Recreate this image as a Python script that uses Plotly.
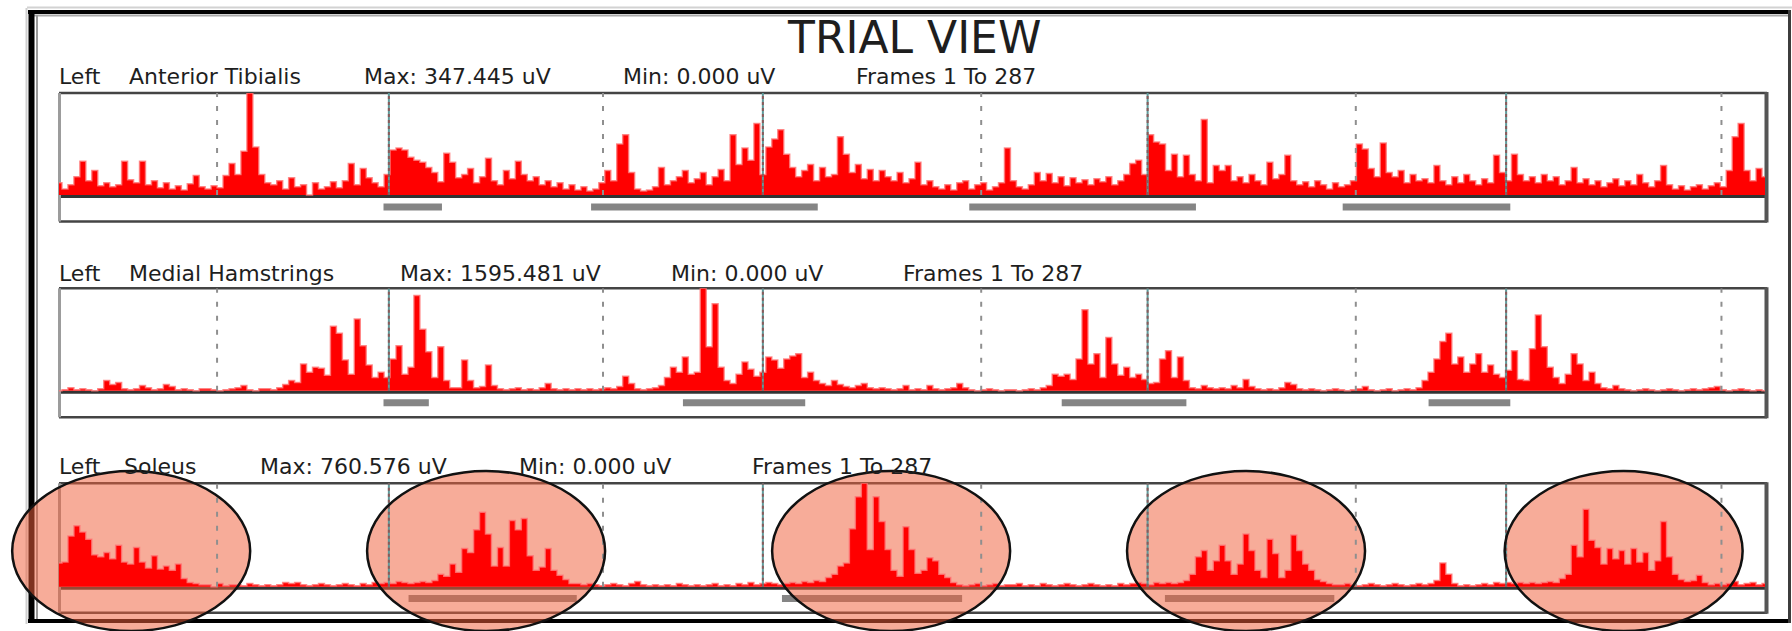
import plotly.graph_objects as go

W, H = 1792, 631

FRAMES = list(range(1, 288))

# Rectified EMG per frame, in % of each channel's peak amplitude
ta_pct = [
    12, 6, 10, 18, 33, 14, 24, 9, 12, 8,
    10, 33, 15, 12, 33, 10, 14, 7, 12, 6,
    9, 5, 11, 19, 8, 6, 9, 7, 19, 31,
    20, 43, 100, 47, 20, 12, 10, 14, 6, 17,
    8, 10, 0, 12, 6, 8, 13, 7, 14, 31,
    10, 26, 17, 12, 8, 20, 44, 46, 44, 37,
    34, 32, 27, 22, 13, 41, 32, 17, 20, 26,
    12, 18, 36, 14, 10, 24, 16, 33, 20, 14,
    18, 10, 14, 8, 12, 6, 10, 5, 8, 4,
    6, 12, 24, 14, 50, 59, 22, 6, 4, 5,
    8, 27, 10, 14, 18, 24, 12, 16, 22, 10,
    18, 25, 14, 59, 30, 46, 34, 70, 20, 47,
    55, 64, 40, 27, 18, 24, 30, 14, 27, 18,
    20, 57, 40, 22, 30, 16, 25, 14, 24, 18,
    14, 22, 12, 16, 32, 10, 14, 8, 6, 10,
    5, 12, 14, 6, 10, 12, 5, 8, 12, 46,
    14, 8, 6, 10, 22, 14, 21, 12, 18, 9,
    17, 12, 15, 10, 16, 13, 18, 10, 14, 20,
    31, 34, 20, 59, 52, 50, 24, 40, 18, 39,
    20, 14, 74, 12, 29, 24, 29, 14, 18, 12,
    20, 14, 10, 32, 16, 20, 39, 14, 10, 13,
    8, 14, 10, 6, 12, 8, 10, 14, 50, 45,
    26, 18, 51, 22, 18, 24, 12, 20, 14, 16,
    12, 29, 14, 10, 18, 12, 20, 14, 10, 16,
    12, 39, 22, 14, 40, 20, 14, 18, 12, 20,
    14, 18, 10, 14, 27, 12, 16, 10, 14, 8,
    12, 16, 9, 14, 10, 20, 12, 8, 14, 29,
    10, 6, 9, 5, 8, 10, 6, 9, 12, 8,
    24, 57, 70, 24, 14, 26, 18,
]

mh_pct = [
    0, 1, 3, 1, 2, 1, 0, 2, 10, 6,
    8, 2, 1, 2, 5, 3, 1, 2, 6, 4,
    1, 2, 1, 0, 2, 2, 1, 0, 1, 2,
    3, 5, 1, 0, 2, 2, 1, 3, 6, 10,
    8, 26, 18, 23, 22, 15, 63, 56, 30, 16,
    70, 44, 25, 13, 18, 13, 31, 44, 16, 23,
    93, 60, 38, 13, 43, 10, 3, 3, 30, 10,
    3, 4, 25, 5, 2, 1, 2, 3, 1, 2,
    1, 3, 7, 2, 1, 2, 1, 2, 1, 2,
    1, 2, 3, 2, 4, 14, 7, 2, 1, 2,
    3, 5, 13, 23, 18, 33, 16, 18, 100, 43,
    85, 23, 10, 7, 16, 28, 21, 14, 18, 33,
    30, 22, 31, 34, 36, 13, 18, 10, 7, 5,
    10, 6, 4, 3, 5, 7, 3, 2, 3, 2,
    1, 2, 5, 1, 2, 1, 5, 2, 1, 2,
    3, 7, 3, 1, 0, 1, 2, 1, 0, 1,
    1, 0, 1, 2, 1, 3, 5, 16, 14, 16,
    11, 31, 79, 26, 36, 13, 52, 26, 15, 23,
    13, 16, 11, 7, 8, 31, 39, 13, 33, 10,
    3, 2, 5, 3, 2, 3, 2, 5, 3, 11,
    4, 2, 1, 2, 1, 3, 8, 6, 2, 1,
    2, 1, 0, 1, 2, 1, 0, 1, 2, 4,
    1, 0, 1, 2, 0, 1, 2, 1, 3, 10,
    18, 31, 48, 56, 26, 33, 18, 26, 36, 18,
    25, 16, 13, 20, 39, 11, 10, 41, 74, 43,
    23, 13, 7, 16, 36, 26, 10, 18, 7, 3,
    2, 5, 2, 1, 0, 1, 2, 1, 0, 1,
    2, 1, 0, 1, 2, 1, 2, 3, 4, 1,
    0, 1, 2, 1, 0, 1, 0,
]

sol_pct = [
    23, 24, 49, 59, 53, 46, 31, 29, 33, 27,
    40, 24, 22, 38, 24, 18, 30, 17, 20, 16,
    22, 8, 4, 3, 2, 2, 0, 3, 1, 2,
    2, 1, 3, 2, 1, 2, 1, 2, 4, 3,
    4, 2, 1, 2, 3, 2, 1, 2, 3, 2,
    1, 3, 2, 4, 3, 4, 3, 5, 4, 3,
    4, 5, 4, 6, 12, 10, 22, 14, 37, 33,
    55, 72, 51, 20, 38, 20, 64, 55, 66, 30,
    16, 19, 37, 16, 11, 7, 3, 3, 2, 3,
    2, 1, 2, 3, 2, 1, 3, 5, 2, 1,
    2, 1, 2, 1, 3, 2, 1, 2, 1, 2,
    3, 1, 2, 1, 3, 2, 4, 2, 3, 4,
    3, 2, 3, 4, 3, 5, 4, 6, 5, 9,
    12, 20, 23, 56, 87, 100, 36, 87, 63, 36,
    16, 10, 58, 36, 13, 16, 28, 25, 12, 9,
    4, 2, 1, 2, 3, 1, 2, 3, 1, 2,
    2, 3, 1, 2, 1, 3, 2, 1, 2, 3,
    2, 1, 2, 3, 2, 1, 2, 1, 3, 2,
    3, 4, 3, 2, 4, 3, 4, 3, 4, 6,
    12, 29, 35, 16, 25, 40, 25, 12, 22, 51,
    35, 16, 9, 46, 32, 9, 16, 50, 35, 22,
    16, 7, 5, 3, 2, 2, 3, 2, 1, 2,
    3, 2, 1, 2, 3, 2, 1, 2, 3, 2,
    3, 6, 23, 12, 3, 1, 2, 1, 2, 3,
    2, 4, 3, 4, 3, 4, 3, 4, 3, 4,
    5, 4, 8, 12, 40, 29, 75, 45, 38, 22,
    37, 27, 35, 22, 37, 24, 33, 16, 25, 63,
    29, 12, 7, 5, 6, 11, 4, 2, 3, 2,
    3, 5, 2, 3, 4, 2, 3,
]

TA_MAX = 347.445
MH_MAX = 1595.481
SOL_MAX = 760.576

SIDE = "Left"
channel_names = ["Anterior Tibialis", "Medial Hamstrings", "Soleus"]

# Gait events (frames)
toe_off_frames = [27.5, 92.2, 155.6, 218.4, 279.7]
foot_strike_frames = [56.3, 119.0, 183.5, 243.6]

# Expected on-periods of each muscle (start frame, end frame)
ta_on = [(55.4, 65.2), (90.2, 128.2), (153.6, 191.6), (216.2, 244.3)]
mh_on = [(55.4, 63.0), (105.6, 126.1), (169.1, 190.0), (230.6, 244.3)]
sol_on = [(59.6, 87.8), (122.2, 152.4), (186.4, 214.8)]

# Soleus bursts circled on the bottom channel (centre frame)
highlight_frames = [13.1, 72.6, 140.5, 200.0, 263.3]

for arr in (ta_pct, mh_pct, sol_pct):
    assert len(arr) == len(FRAMES)

channels = [
    dict(name=channel_names[0], pct=ta_pct, peak=TA_MAX, on=ta_on),
    dict(name=channel_names[1], pct=mh_pct, peak=MH_MAX, on=mh_on),
    dict(name=channel_names[2], pct=sol_pct, peak=SOL_MAX, on=sol_on),
]

# ---- page geometry (pixels) ----
BOX_X0, BOX_X1 = 59, 1765
panel_top = [93, 288.3, 483.3]
panel_base = [195, 390.7, 586.7]
panel_bot = [221.5, 417.3, 612.7]

label_y = [75, 272.5, 465.5]
label_x = [
    [80, 214.5, 457.8, 699.3, 946],
    [80, 231.5, 500, 747, 993.5],
    [80, 159.5, 353.5, 595, 842],
]


def px(x):
    return x / W


def py(y):
    return 1 - y / H


def frame_to_paper(f):
    return px(BOX_X0 + (f - FRAMES[0]) / (FRAMES[-1] - FRAMES[0]) * (BOX_X1 - BOX_X0))


FONT = "DejaVu Sans"
TXT = "#1e1e1e"

fig = go.Figure()
layout = dict(
    width=W, height=H,
    margin=dict(l=0, r=0, t=0, b=0, pad=0),
    paper_bgcolor="white",
    plot_bgcolor="rgba(0,0,0,0)",
    showlegend=False,
)
shapes = []
annotations = []


def hline(x0, x1, y, color, width, layer="below"):
    shapes.append(dict(type="line", xref="paper", yref="paper",
                       x0=px(x0), x1=px(x1), y0=py(y), y1=py(y),
                       line=dict(color=color, width=width), layer=layer))


def vline(x, y0, y1, color, width, layer="below"):
    shapes.append(dict(type="line", xref="paper", yref="paper",
                       x0=px(x), x1=px(x), y0=py(y0), y1=py(y1),
                       line=dict(color=color, width=width), layer=layer))


# outer report frame
hline(27, 1792, 7.5, "#d2d2d2", 2)
vline(26.5, 8, 624, "#cfcfcf", 2)
hline(28, 1791, 12, "#000000", 4)
hline(34, 1788, 15.5, "#a8a8a8", 2)
vline(31.5, 10, 623, "#000000", 6)
vline(37, 15, 619, "#9a9a9a", 2)
hline(28, 1791, 621, "#000000", 4)
vline(1789.5, 10, 623, "#3c3c3c", 3)

annotations.append(dict(text="TRIAL VIEW", x=px(914), y=py(37), xref="paper", yref="paper",
                        xanchor="center", yanchor="middle", showarrow=False,
                        font=dict(family=FONT, size=44, color=TXT)))

for i, ch in enumerate(channels):
    n = i + 1
    xa = "x" if n == 1 else f"x{n}"
    ya = "y" if n == 1 else f"y{n}"
    peak = ch["peak"]
    uv = [round(p / 100 * peak, 3) for p in ch["pct"]]
    top, base, bot = panel_top[i], panel_base[i], panel_bot[i]
    ymin = -peak * (bot - base) / (base - top)

    layout["xaxis" if n == 1 else f"xaxis{n}"] = dict(
        domain=[px(BOX_X0), px(BOX_X1)], range=[FRAMES[0], FRAMES[-1]],
        visible=False, anchor=ya, fixedrange=True)
    layout["yaxis" if n == 1 else f"yaxis{n}"] = dict(
        domain=[py(bot), py(top)], range=[ymin, peak],
        visible=False, anchor=xa, fixedrange=True)

    fig.add_trace(go.Scatter(
        x=FRAMES, y=uv, xaxis=xa, yaxis=ya, mode="lines",
        line=dict(color="rgba(255,120,120,0.8)", width=1.5, shape="hvh"),
        fill="tozeroy", fillcolor="#ff0000", hoverinfo="skip"))

    # channel box
    hline(BOX_X0, BOX_X1 + 2, top, "#444444", 2.5)
    hline(BOX_X0, BOX_X1 + 2, bot, "#444444", 2.5)
    hline(BOX_X0, BOX_X1, base + 1.5, "#333333", 3)
    vline(BOX_X0 + 0.5, top, bot, "#9c9c9c", 3)
    vline(BOX_X1 + 1.5, top - 1, bot + 1, "#555555", 4)

    # expected activity bars
    bar_mid = base + (bot - base) * 0.45
    for s, e in ch["on"]:
        shapes.append(dict(type="rect", xref=xa, yref="paper",
                           x0=s, x1=e, y0=py(bar_mid + 3.5), y1=py(bar_mid - 3.5),
                           fillcolor="#858585", line=dict(width=0), layer="below"))

    # gait event markers
    for f in toe_off_frames:
        shapes.append(dict(type="line", xref=xa, yref=ya, x0=f, x1=f, y0=0, y1=peak,
                           line=dict(color="#8f8f8f", width=2, dash="5px,9px"), layer="above"))
    for f in foot_strike_frames:
        shapes.append(dict(type="line", xref=xa, yref=ya, x0=f, x1=f, y0=0, y1=peak,
                           line=dict(color="#5f9a9a", width=2), layer="above"))
        shapes.append(dict(type="line", xref=xa, yref=ya, x0=f, x1=f, y0=0, y1=peak,
                           line=dict(color="#8a5a5a", width=2, dash="3px,3px"), layer="above"))

    texts = [
        SIDE,
        ch["name"],
        f"Max: {max(uv):.3f} uV",
        f"Min: {min(uv):.3f} uV",
        f"Frames {FRAMES[0]} To {FRAMES[-1]}",
    ]
    for t, x in zip(texts, label_x[i]):
        annotations.append(dict(text=t, x=px(x), y=py(label_y[i] + 1), xref="paper", yref="paper",
                                xanchor="center", yanchor="middle", showarrow=False,
                                font=dict(family=FONT, size=22, color=TXT)))

# circled soleus bursts: translucent fill under the traces, outline on top
ELL_HALF_W = 119
ELL_TOP, ELL_BOT = 471, 631
for f in highlight_frames:
    cx = frame_to_paper(f)
    shapes.append(dict(type="circle", xref="paper", yref="paper",
                       x0=cx - px(ELL_HALF_W), x1=cx + px(ELL_HALF_W),
                       y0=py(ELL_BOT), y1=py(ELL_TOP),
                       fillcolor="rgba(240,95,60,0.52)", line=dict(width=0), layer="below"))
for f in highlight_frames:
    cx = frame_to_paper(f)
    shapes.append(dict(type="circle", xref="paper", yref="paper",
                       x0=cx - px(ELL_HALF_W), x1=cx + px(ELL_HALF_W),
                       y0=py(ELL_BOT), y1=py(ELL_TOP),
                       fillcolor="rgba(0,0,0,0)", line=dict(color="#111111", width=2.5),
                       layer="above"))

layout["shapes"] = shapes
layout["annotations"] = annotations
fig.update_layout(**layout)

fig.write_html("out.html")
